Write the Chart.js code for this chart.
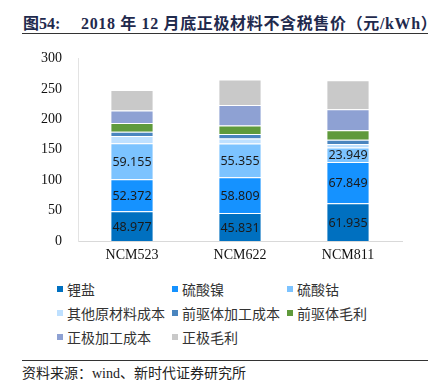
<!DOCTYPE html>
<html>
<head>
<meta charset="utf-8">
<script src="https://cdn.jsdelivr.net/npm/chart.js@4"></script>
<style>
  html, body { margin: 0; padding: 0; background: #fff; }
  body { width: 433px; height: 392px; position: relative; overflow: hidden; font-family: "Liberation Serif", "Noto Sans CJK SC", serif; }
  .title { position: absolute; left: 23px; top: 10px; font-size: 16px; font-weight: bold; color: #1f2a4d; white-space: nowrap; letter-spacing: 0.65px; z-index: 2; }
  .title .num { display: inline-block; width: 58px; letter-spacing: 0; }
  .rule { position: absolute; left: 22px; width: 406px; height: 0; border-top: 1.5px solid #333; z-index: 2; }
  .chart-box { position: absolute; left: 0; top: 34px; width: 433px; height: 236px; }
  .legend { position: absolute; left: 57px; top: 279px; width: 360px; }
  .legend-item { position: absolute; display: flex; align-items: center; font-family: "Noto Sans CJK SC", sans-serif; font-size: 14px; color: #333; white-space: nowrap; }
  .legend-item span.box { width: 6px; height: 6px; margin-right: 4px; }
  .source { position: absolute; left: 22px; top: 362px; font-size: 14px; color: #222; font-family: "Liberation Serif", "Noto Sans CJK SC", serif; }
</style>
</head>
<body>
<div class="title"><span class="num">图54:</span>2018 年 12 月底正极材料不含税售价（元/kWh）</div>
<div class="rule" style="top:33px"></div>
<div class="chart-box"><canvas id="chart" width="433" height="236"></canvas></div>
<div class="legend" id="legend"></div>
<div class="rule" style="top:360px"></div>
<div class="source">资料来源：wind、新时代证券研究所</div>
<script>
const categories = ['NCM523', 'NCM622', 'NCM811'];
const seriesNames = ['锂盐', '硫酸镍', '硫酸钴', '其他原材料成本', '前驱体加工成本', '前驱体毛利', '正极加工成本', '正极毛利'];
const lithiumSalt = [48.977, 45.831, 61.935];
const nickelSulfate = [52.372, 58.809, 67.849];
const cobaltSulfate = [59.155, 55.355, 23.949];
const otherMaterials = [11.9, 8.6, 5.6];
const precursorProcessing = [6.9, 7.0, 7.0];
const precursorMargin = [14.7, 14.2, 15.8];
const cathodeProcessing = [20.6, 33.5, 34.2];
const cathodeMargin = [33.5, 42.2, 47.6];
const yTicks = [0, 50, 100, 150, 200, 250, 300];

const seriesValues = [lithiumSalt, nickelSulfate, cobaltSulfate, otherMaterials, precursorProcessing, precursorMargin, cathodeProcessing, cathodeMargin];
const colors = ['#0070C0', '#1592FF', '#7CC3FF', '#BEE0FF', '#4A85BF', '#5F9A3B', '#8EA1D3', '#C9C9C9'];
const labelledSeries = 3;

const segmentLabels = {
  id: 'segmentLabels',
  afterDatasetsDraw(chart) {
    const { ctx } = chart;
    ctx.save();
    ctx.font = '12.5px "Noto Sans", sans-serif';
    ctx.fillStyle = '#1a1a1a';
    ctx.textAlign = 'center';
    ctx.textBaseline = 'middle';
    for (let d = 0; d < labelledSeries; d++) {
      chart.getDatasetMeta(d).data.forEach((bar, i) => {
        const y = (bar.y + bar.base) / 2;
        ctx.fillText(seriesValues[d][i].toFixed(3), bar.x, y + 1);
      });
    }
    ctx.restore();
  }
};

const chart = new Chart(document.getElementById('chart'), {
  type: 'bar',
  data: {
    labels: categories,
    datasets: seriesNames.map((name, i) => ({
      label: name,
      data: seriesValues[i],
      backgroundColor: colors[i],
      borderColor: 'rgba(255,255,255,0.55)',
      borderWidth: 1,
      categoryPercentage: 1,
      barPercentage: 0.4,
    })),
  },
  options: {
    responsive: false,
    animation: false,
    layout: { padding: { top: 0, right: 31, left: 0, bottom: 0 } },
    plugins: { legend: { display: false }, tooltip: { enabled: false } },
    scales: {
      x: {
        stacked: true,
        grid: { display: false, drawTicks: false },
        border: { color: '#d9d9d9' },
        ticks: { color: '#111', padding: 6, font: { family: '"Liberation Serif"', size: 14 } },
        afterFit(scale) { scale.height = 29; },
      },
      y: {
        stacked: true,
        min: 0,
        max: 300,
        afterBuildTicks(scale) { scale.ticks = yTicks.map(v => ({ value: v })); },
        grid: { display: false, drawTicks: false },
        border: { color: '#e3e3e3' },
        ticks: { color: '#111', padding: 16, font: { family: '"Liberation Serif"', size: 14 } },
        afterFit(scale) { scale.width = 78; },
      },
    },
  },
  plugins: [segmentLabels],
});

function buildLegend() {
  const legend = document.getElementById('legend');
  chart.data.datasets.forEach((ds, i) => {
    const item = document.createElement('div');
    item.className = 'legend-item';
    item.style.left = (i % 3) * 115 + 'px';
    item.style.top = Math.floor(i / 3) * 24 + 'px';
    item.innerHTML = `<span class="box" style="background:${ds.backgroundColor}"></span>${ds.label}`;
    legend.appendChild(item);
  });
}
buildLegend();
</script>
</body>
</html>
